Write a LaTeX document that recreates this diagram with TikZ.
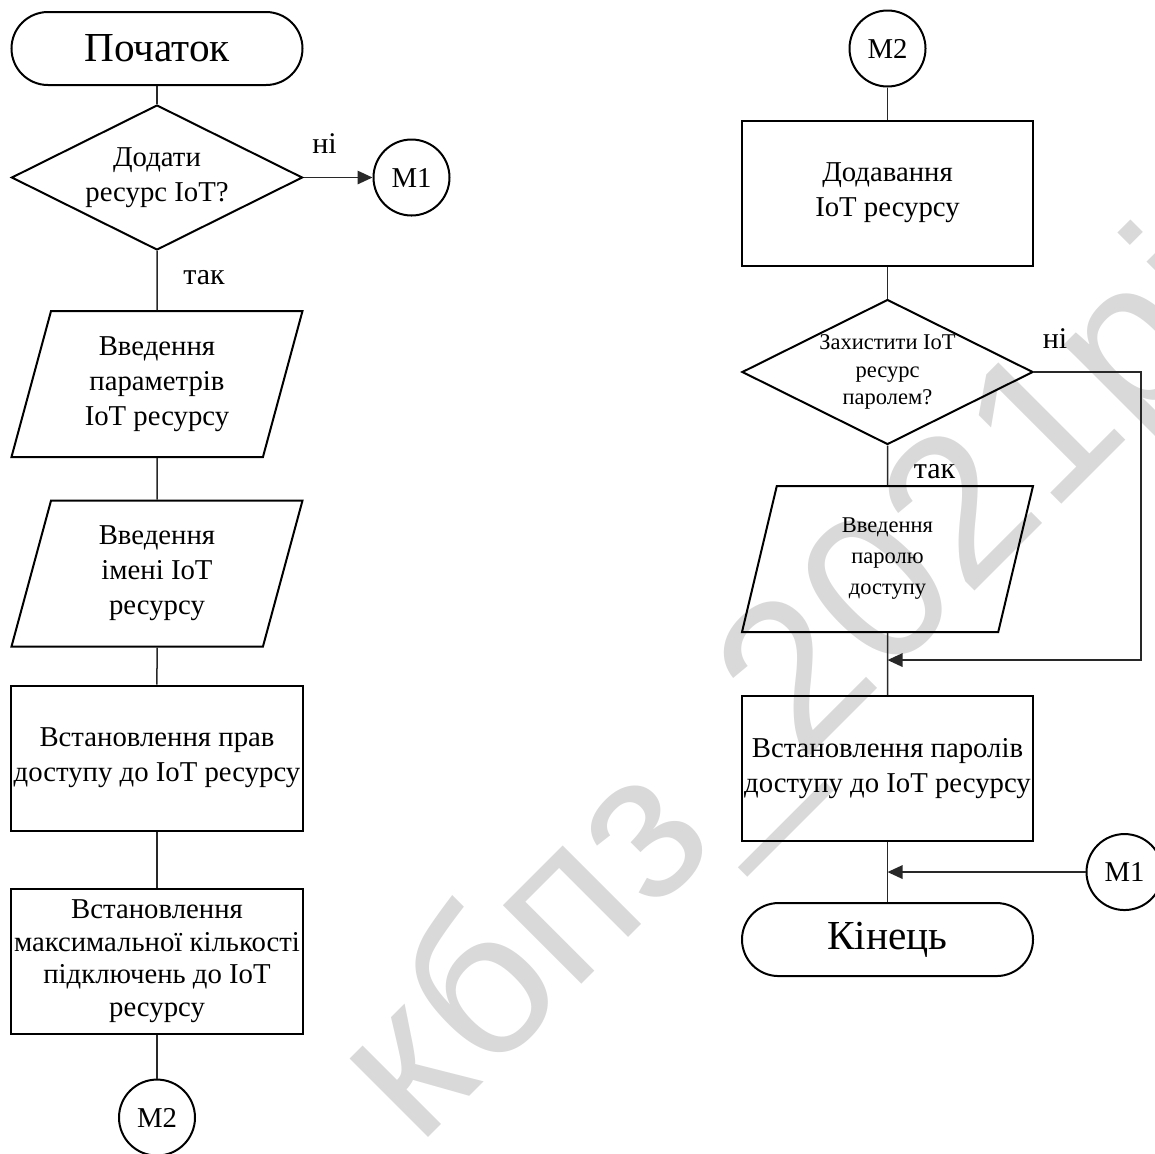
\documentclass[tikz,border=0pt]{standalone}
\usepackage{fontspec}
\setmainfont{Liberation Serif}
\newfontfamily\wmfont{Liberation Sans}
\definecolor{wmGray}{RGB}{217, 217, 217}
\definecolor{lineGray}{RGB}{40, 40, 40}
\usepackage{tikz}
\usetikzlibrary{positioning, calc, shapes.geometric, arrows.meta}

\begin{document}
\begin{tikzpicture}[
          term/.style={rectangle, draw, line width=0.8pt, rounded corners=14.6pt, minimum width=116.4pt, minimum height=29.2pt, font=\fontsize{16.5}{20}\selectfont},
          dec/.style={diamond, draw, line width=0.8pt, aspect=2, inner sep=-2pt, minimum width=116.4pt, minimum height=58pt, align=center, font=\fontsize{11.5}{14}\selectfont},
          io/.style={trapezium, trapezium left angle=70.5, trapezium right angle=109.5, trapezium stretches body, draw, line width=0.8pt, minimum width=116.4pt, minimum height=58.4pt, align=center, font=\fontsize{11.5}{14}\selectfont},
          proc/.style={rectangle, draw, line width=0.8pt, inner xsep=1pt, minimum width=116.4pt, minimum height=58pt, align=center, font=\fontsize{11.5}{14}\selectfont},
          conn/.style={circle, draw, line width=0.8pt, inner sep=0pt, minimum size=30.4pt, font=\fontsize{11.5}{14}\selectfont},
          lbl/.style={inner sep=0pt, anchor=base, font=\fontsize{12}{14}\selectfont},
          line/.style={draw=lineGray, line width=0.6pt},
          arrow/.style={line, -{Triangle[length=6pt, width=5.4pt]}}
        ]
          \useasboundingbox (-62.8pt,19.4pt) rectangle (399.2pt,-441.8pt);

          % watermark
          \node[text=wmGray, rotate=45, font=\wmfont\fontsize{84}{84}\selectfont] (wm) at (255pt,-258pt) {кбпз\_2021рі};

          % left column
          \node[term] (start) at (0,0) {Початок};
          \node[dec, below=7.2pt of start] (dia1) {Додати\\ресурс IoT?};
          \node[conn, right=27.6pt of dia1] (m1a) {M1};
          \node[io, below=23.6pt of dia1] (in1) {Введення\\параметрів\\IoT ресурсу};
          \node[io, below=16.6pt of in1] (in2) {Введення\\імені IoT\\ресурсу};
          \node[proc, below=14.8pt of in2] (rights) {Встановлення прав\\доступу до IoT ресурсу};
          \node[proc, below=22.4pt of rights, font=\fontsize{11.5}{13}\selectfont] (maxcon) {Встановлення\\максимальної кількості\\підключень до IoT\\ресурсу};
          \node[conn, below=17.6pt of maxcon] (m2a) {M2};

          \node[lbl] (no1) at ($(dia1.east)+(8.4pt,9.8pt)$) {ні};
          \node[lbl] (yes1) at ($(dia1.south)+(18.8pt,-13.2pt)$) {так};

          % right column
          \node[conn, right=218pt of start] (m2b) {M2};
          \node[proc, below=12.8pt of m2b] (add) {Додавання\\IoT ресурсу};
          \node[dec, below=12.8pt of add, font=\fontsize{9}{11}\selectfont] (dia2) {Захистити IoT\\ресурс\\паролем?};
          \node[io, below=15.8pt of dia2, font=\fontsize{9}{12.4}\selectfont] (in3) {Введення\\паролю\\доступу};
          \node[proc, below=24.8pt of in3] (pass) {Встановлення паролів\\доступу до IoT ресурсу};
          \node[term, below=24pt of pass] (end) {Кінець};
          \coordinate (j1) at ($(in3.south)+(0,-10.8pt)$);
          \coordinate (j2) at ($(pass.south)!0.5!(end.north)$);
          \node[conn, right=79.2pt of j2] (m1b) {M1};

          \node[lbl] (no2) at ($(dia2.east)+(8.4pt,9.6pt)$) {ні};
          \node[lbl] (yes2) at ($(dia2.south)+(18.8pt,-13.2pt)$) {так};

          % connectors
          \draw[line] (start) -- (dia1);
          \draw[arrow] (dia1.east) -- (m1a);
          \draw[line] (dia1) -- (in1);
          \draw[line] (in1) -- (in2);
          \draw[line] (in2) -- (rights);
          \draw[line] (rights) -- (maxcon);
          \draw[line] (maxcon) -- (m2a);

          \draw[line] (m2b) -- (add);
          \draw[line] (add) -- (dia2);
          \draw[line] (dia2) -- (in3);
          \draw[line] (in3) -- (pass);
          \draw[line] (pass) -- (end);
          \draw[arrow] (dia2.east) -- ++(42.8pt,0) |- (j1);
          \draw[arrow] (m1b) -- (j2);
        \end{tikzpicture}
\end{document}
